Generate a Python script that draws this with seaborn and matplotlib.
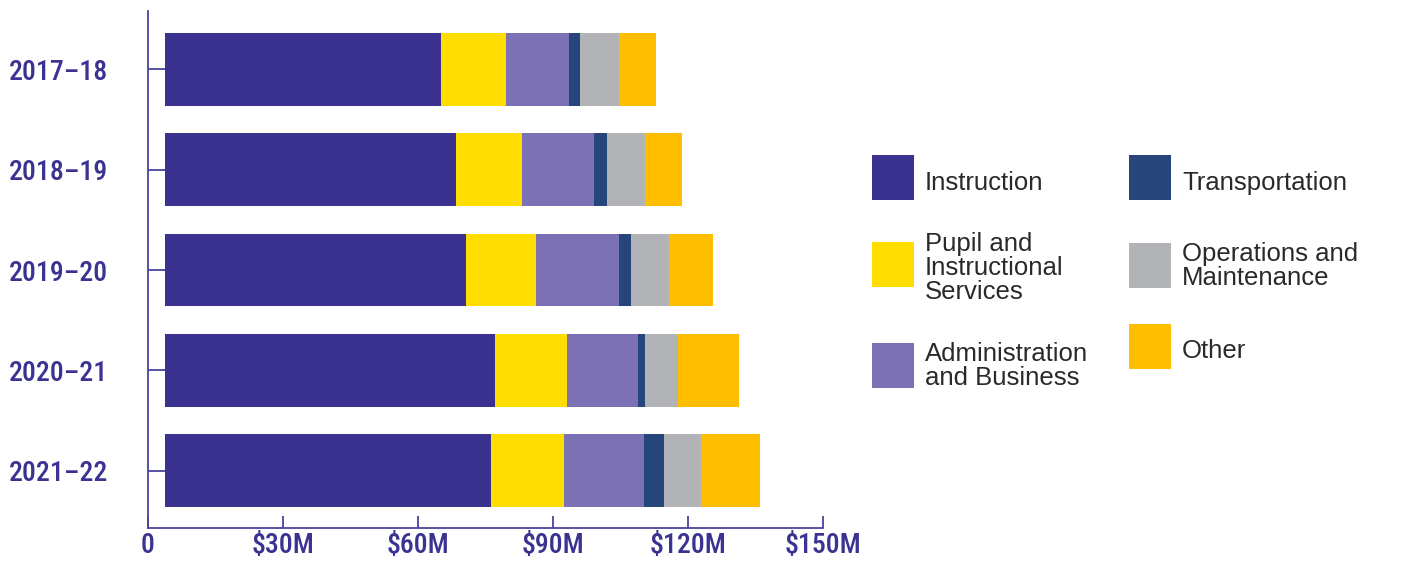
import matplotlib
matplotlib.use("Agg")
import matplotlib.pyplot as plt
from matplotlib.patches import Rectangle
from matplotlib import font_manager
import seaborn as sns
import numpy as np

# ---------------- data ($ millions) ----------------
YEARS = ["2017–18", "2018–19", "2019–20", "2020–21", "2021–22"]
CATEGORIES = ["Instruction", "Pupil and Instructional Services",
              "Administration and Business", "Transportation",
              "Operations and Maintenance", "Other"]
INSTRUCTION = [61.3, 64.7, 66.9, 73.3, 72.4]
PUPIL = [14.4, 14.7, 15.6, 16.0, 16.2]
ADMIN = [14.0, 16.0, 18.4, 15.8, 17.8]
TRANSPORT = [2.4, 2.9, 2.7, 1.6, 4.4]
OPERATIONS = [8.8, 8.4, 8.4, 7.3, 8.2]
OTHER = [8.1, 8.2, 9.8, 13.6, 13.3]
X_TICKS = [0, 30, 60, 90, 120, 150]
X_TICK_LABELS = ["0", "$30M", "$60M", "$90M", "$120M", "$150M"]
LEGEND_LABELS = ["Instruction", "Pupil and\nInstructional\nServices",
                 "Administration\nand Business", "Transportation",
                 "Operations and\nMaintenance", "Other"]

# ---------------- style ----------------
COLORS = ["#3B318F", "#FFDD00", "#7B71B3", "#26457A", "#B1B3B6", "#FFBE00"]
AXIS_COLOR = "#4A43A0"
LABEL_COLOR = "#3B3292"
LEGEND_TEXT = "#2A2A2A"
BAR_START = 3.8  # visual gap between the axis line and the bars

sns.set_style("white")
names = {f.name for f in font_manager.fontManager.ttflist}
COND = next((n for n in ["Roboto Condensed", "Liberation Sans Narrow",
                         "DejaVu Sans Condensed"] if n in names), "DejaVu Sans")
plt.rcParams["font.family"] = ["Liberation Sans", "DejaVu Sans"]

W, H = 1415, 562
fig = plt.figure(figsize=(W / 100, H / 100), dpi=100)
fig.patch.set_facecolor("white")
ax = fig.add_axes([148 / W, 1 - 528 / H, 675 / W, 517 / H])

series = [INSTRUCTION, PUPIL, ADMIN, TRANSPORT, OPERATIONS, OTHER]
left = np.full(len(YEARS), BAR_START, dtype=float)
for vals, col in zip(series, COLORS):
    sns.barplot(x=vals, y=YEARS, orient="h", left=left.copy(), color=col,
                saturation=1, width=0.727, linewidth=0, errorbar=None, ax=ax)
    left = left + np.asarray(vals, dtype=float)

ax.set_xlim(0, 150)
ax.set_ylim(4.57, -0.58)
ax.set_xlabel("")
ax.set_ylabel("")
ax.grid(False)

for s in ["top", "right"]:
    ax.spines[s].set_visible(False)
for s in ["left", "bottom"]:
    ax.spines[s].set_color(AXIS_COLOR)
    ax.spines[s].set_linewidth(1.3)

ax.set_xticks(X_TICKS)
ax.set_xticklabels(X_TICK_LABELS, fontfamily=COND, fontweight="medium",
                   fontsize=20, color=LABEL_COLOR)
ax.set_yticks(range(len(YEARS)))
ax.set_yticklabels(YEARS, fontfamily=COND, fontweight="medium",
                   fontsize=20, color=LABEL_COLOR)
ax.tick_params(axis="x", bottom=True, direction="in", length=8.6, width=1.3,
               color=AXIS_COLOR, pad=3)
ax.tick_params(axis="y", left=True, direction="in", length=12.2, width=1.3,
               color=AXIS_COLOR, pad=28.5)

# ---------------- legend (manual layout, pixel positions) ----------------
# (patch left x, patch center y, text x, last-line baseline y)
LEG_LAYOUT = [(872, 177, 925, 190), (872, 264, 925, 299),
              (872, 365, 925, 385), (1129, 177, 1182, 190),
              (1129, 265, 1182, 285), (1129, 346, 1182, 358)]
PATCH_W, PATCH_H = 42, 45
for lab, col, (px, pcy, tx, ty) in zip(LEGEND_LABELS, COLORS, LEG_LAYOUT):
    fig.add_artist(Rectangle((px / W, 1 - (pcy + PATCH_H / 2) / H),
                             PATCH_W / W, PATCH_H / H,
                             transform=fig.transFigure, facecolor=col,
                             edgecolor="none"))
    fig.text(tx / W, 1 - ty / H, lab, ha="left", va="baseline",
             fontsize=18.5, color=LEGEND_TEXT, linespacing=1.0,
             fontfamily=["Liberation Sans", "DejaVu Sans"])

fig.savefig("out.png", dpi=100, facecolor="white")
